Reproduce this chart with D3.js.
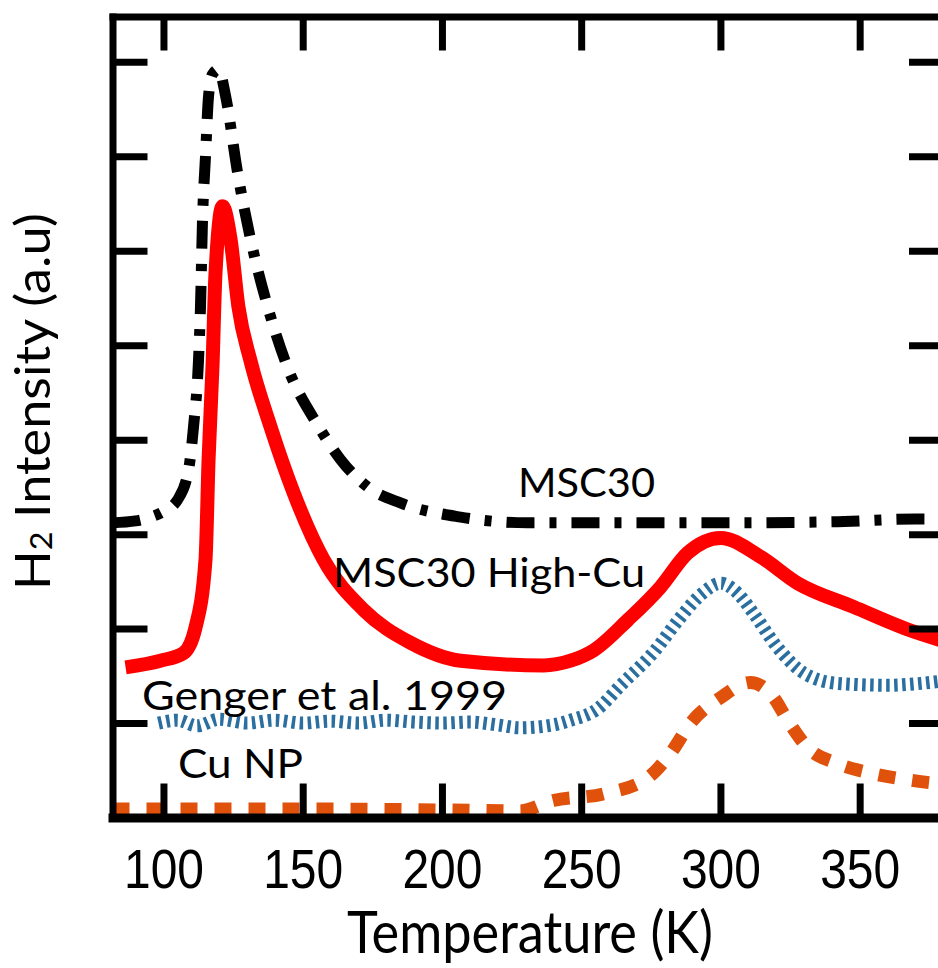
<!DOCTYPE html>
<html>
<head>
<meta charset="utf-8">
<script src="https://cdn.jsdelivr.net/npm/d3@7"></script>
<style>
  html, body { margin: 0; padding: 0; background: #fff; }
  svg { display: block; }
</style>
</head>
<body>
<svg id="chart" width="938" height="968"></svg>
<script>
// Temperature-programmed desorption traces, H2 intensity (arbitrary units) vs temperature (K)

// MSC30 (black dash-dot)
const msc30T = [81.7, 90, 95.3, 100, 105, 109, 110.8, 112.6, 113.3, 114, 115.1, 116.2, 117.6, 119.8, 122.3, 126.6, 131.3, 137.4, 144.5, 155.7, 163.6, 173.3, 185.1, 206.7, 230.7, 260, 300, 340, 370, 381];
const msc30V = [3.12, 3.14, 3.18, 3.24, 3.36, 3.68, 4.14, 4.85, 5.41, 6.30, 7.00, 7.64, 7.87, 7.92, 7.64, 6.83, 6.12, 5.41, 4.77, 4.14, 3.79, 3.50, 3.33, 3.18, 3.12, 3.12, 3.12, 3.13, 3.16, 3.16];

// MSC30 High-Cu (red solid)
const highCuT = [86.4, 98.9, 107.2, 111.5, 115.1, 116.2, 117.6, 118.7, 121.2, 124.1, 126.9, 131.3, 138.4, 146.7, 157.5, 171.8, 188.7, 206.7, 236.5, 246.2, 254.5, 266.7, 278.5, 288.2, 300.1, 314.4, 327.7, 347.8, 368.3, 381];
const highCuV = [1.59, 1.66, 1.74, 2.01, 2.73, 3.79, 4.77, 5.77, 6.47, 6.12, 5.41, 4.83, 4.14, 3.44, 2.73, 2.20, 1.85, 1.66, 1.61, 1.66, 1.77, 2.09, 2.44, 2.80, 2.96, 2.76, 2.48, 2.23, 1.98, 1.86];

// Genger et al. 1999 (blue hatched)
const gengerT = [98.2, 105, 112, 120, 130, 140, 150, 160, 170, 180, 190, 200, 210, 220, 228, 240, 246.2, 255.9, 264.2, 276, 285.7, 293, 300.1, 306, 311.9, 320.5, 329.9, 342.1, 360, 372, 381];
const gengerV = [1.00, 1.03, 0.97, 1.04, 1.00, 1.03, 1.00, 1.02, 1.00, 1.03, 1.01, 1.00, 1.01, 0.98, 0.95, 0.98, 1.03, 1.15, 1.40, 1.75, 2.12, 2.36, 2.48, 2.38, 2.16, 1.80, 1.53, 1.42, 1.40, 1.42, 1.45];

// Cu NP (orange dashed)
const cuNpT = [81.7, 100, 150, 200, 228, 240, 258, 273.9, 282.1, 289.3, 300.1, 310.8, 319.1, 324.1, 331.3, 342.1, 353.9, 369.4, 381];
const cuNpV = [0.09, 0.09, 0.09, 0.08, 0.07, 0.18, 0.25, 0.42, 0.68, 1.00, 1.27, 1.43, 1.27, 1.03, 0.74, 0.57, 0.47, 0.39, 0.35];

const xTicks = [100, 150, 200, 250, 300, 350];
const yTicks = [1, 2, 3, 4, 5, 6, 7, 8];

const seriesLabels = ["MSC30", "MSC30 High-Cu", "Genger et al. 1999", "Cu NP"];

const svg = d3.select("#chart");

const plotL = 112.5, plotR = 946, plotT = 16.5, plotB = 817.5;

const x = d3.scaleLinear().domain([81.7, 381]).range([plotL, plotR]);
const y = d3.scaleLinear().domain([0, 8.48]).range([plotB, plotT]);

svg.append("defs").append("clipPath").attr("id", "plotClip")
  .append("rect").attr("x", plotL).attr("y", plotT).attr("width", plotR - plotL).attr("height", plotB - plotT);

const line = d3.line().x(d => x(d[0])).y(d => y(d[1])).curve(d3.curveMonotoneX);
const zip = (a, b) => a.map((t, i) => [t, b[i]]);

const plot = svg.append("g").attr("clip-path", "url(#plotClip)");

const series = [
  { pts: zip(cuNpT, cuNpV), color: "#e0520c", width: 13, dash: "17 17" },
  { pts: zip(gengerT, gengerV), color: "#2a6fa0", width: 13, dash: "3.5 4.5" },
  { pts: zip(highCuT, highCuV), color: "#ff0000", width: 14, dash: null },
  { pts: zip(msc30T, msc30V), color: "#000000", width: 11, dash: "28 15 7 15" }
];

plot.selectAll("path.trace").data(series).join("path")
  .attr("class", "trace")
  .attr("d", d => line(d.pts))
  .attr("fill", "none")
  .attr("stroke", d => d.color)
  .attr("stroke-width", d => d.width)
  .attr("stroke-dasharray", d => d.dash)
  .attr("stroke-linejoin", "round");

// Curve labels
const labelPos = [
  { x: 518, y: 497, len: 137 },
  { x: 333, y: 587, len: 312 },
  { x: 142, y: 710, len: 365 },
  { x: 178, y: 778, len: 125 }
];
svg.selectAll("text.series-label").data(seriesLabels).join("text")
  .attr("class", "series-label")
  .attr("x", (d, i) => labelPos[i].x)
  .attr("y", (d, i) => labelPos[i].y)
  .attr("textLength", (d, i) => labelPos[i].len)
  .attr("lengthAdjust", "spacingAndGlyphs")
  .attr("font-family", "Lato, sans-serif")
  .attr("font-size", 40)
  .attr("fill", "#000")
  .text(d => d);

// Frame axes with inward ticks on all four sides
function styleAxis(g, w) {
  g.select(".domain").attr("stroke", "#000").attr("stroke-width", w).attr("stroke-linecap", "square");
  g.selectAll(".tick line").attr("stroke", "#000").attr("stroke-width", 7);
}

const gBottom = svg.append("g").attr("transform", `translate(0,${plotB})`)
  .call(d3.axisBottom(x).tickValues(xTicks).tickSizeInner(-34).tickSizeOuter(0).tickPadding(0));
styleAxis(gBottom, 9);
gBottom.selectAll(".tick text")
  .attr("y", 70.5).attr("dy", null)
  .attr("font-family", "'Liberation Sans', Arial, sans-serif")
  .attr("font-size", 56)
  .attr("fill", "#000")
  .attr("textLength", 80)
  .attr("lengthAdjust", "spacingAndGlyphs");

const gTop = svg.append("g").attr("transform", `translate(0,${plotT})`)
  .call(d3.axisTop(x).tickValues(xTicks).tickSizeInner(-34).tickSizeOuter(0).tickFormat(""));
styleAxis(gTop, 7);

const gLeft = svg.append("g").attr("transform", `translate(${plotL},0)`)
  .call(d3.axisLeft(y).tickValues(yTicks).tickSizeInner(-35).tickSizeOuter(0).tickFormat(""));
styleAxis(gLeft, 7);

const gRight = svg.append("g").attr("transform", `translate(${plotR},0)`)
  .call(d3.axisRight(y).tickValues(yTicks).tickSizeInner(-37).tickSizeOuter(0).tickFormat(""));
styleAxis(gRight, 7);

// Axis titles
svg.append("text")
  .attr("x", 530).attr("y", 953)
  .attr("text-anchor", "middle")
  .attr("font-family", "Lato, sans-serif")
  .attr("font-size", 58)
  .attr("textLength", 366)
  .attr("lengthAdjust", "spacingAndGlyphs")
  .attr("fill", "#000")
  .text("Temperature (K)");

const yTitle = svg.append("text")
  .attr("transform", "translate(50,401.5) scale(0.83,1) rotate(-90)")
  .attr("text-anchor", "middle")
  .attr("font-family", "Lato, sans-serif")
  .attr("font-size", 58)
  .attr("textLength", 377)
  .attr("lengthAdjust", "spacingAndGlyphs")
  .attr("fill", "#000");
yTitle.append("tspan").text("H");
yTitle.append("tspan").attr("font-size", 36).attr("dy", 3).text("2");
yTitle.append("tspan").attr("dy", -3).text(" Intensity (a.u)");
</script>
</body>
</html>
